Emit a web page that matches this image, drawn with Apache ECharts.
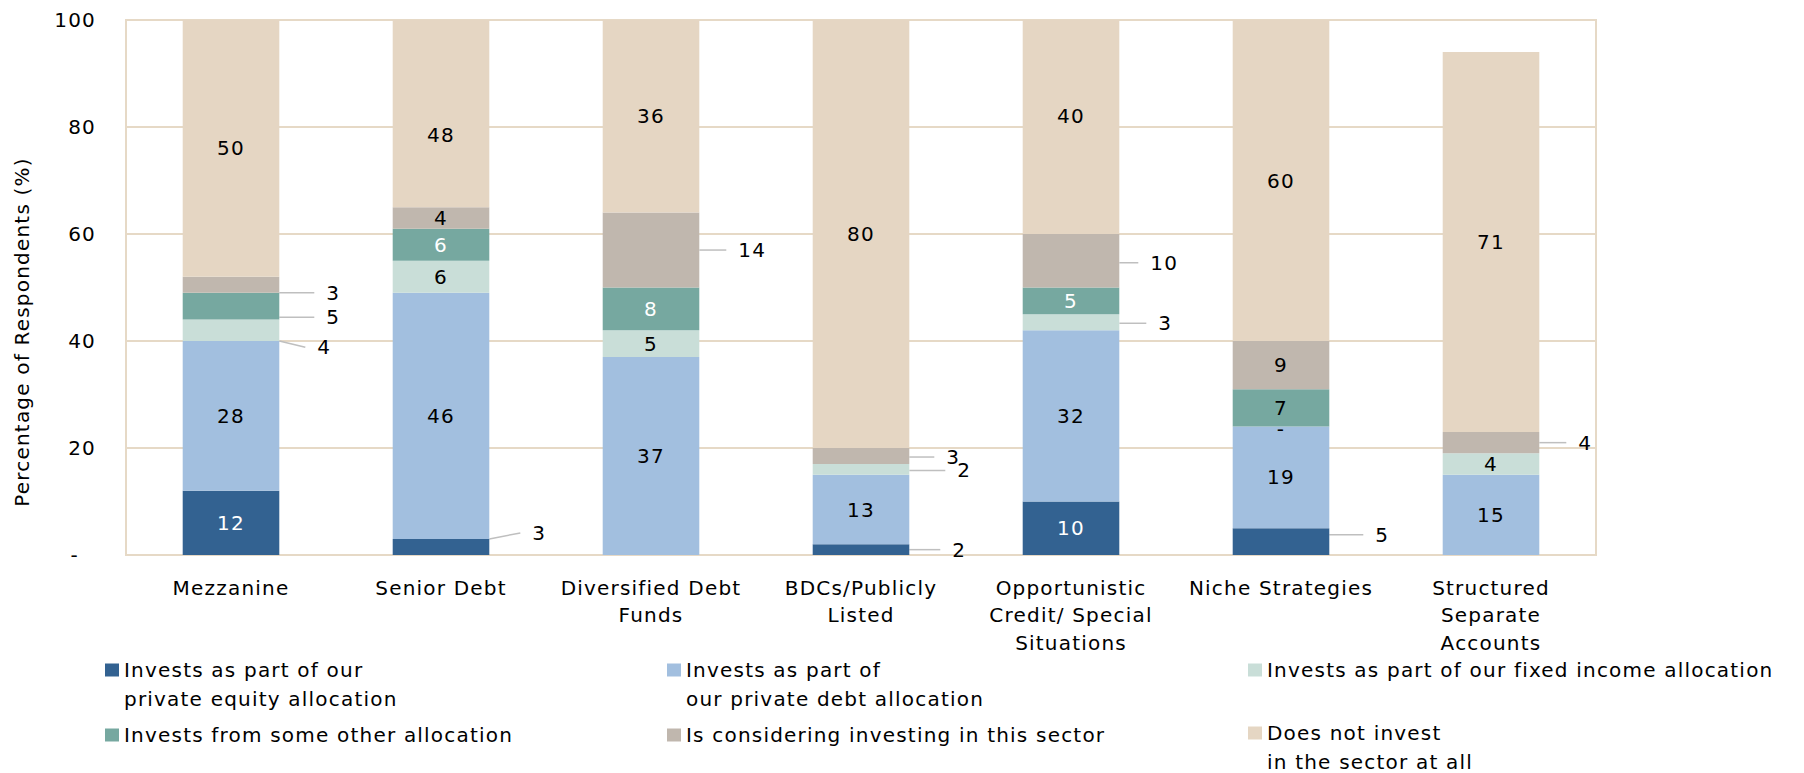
<!DOCTYPE html>
<html>
<head>
<meta charset="utf-8">
<script src="https://cdn.jsdelivr.net/npm/echarts@6/dist/echarts.min.js"></script>
<style>
  html, body { margin: 0; padding: 0; background: #fff; }
  #chart { width: 1804px; height: 773px; }
  /* the source chart's text is loosely spaced */
  #chart svg text { letter-spacing: 1.2px; }
</style>
</head>
<body>
<div id="chart"></div>
<script>
const categories = [
  'Mezzanine',
  'Senior Debt',
  'Diversified Debt\nFunds',
  'BDCs/Publicly\nListed',
  'Opportunistic\nCredit/ Special\nSituations',
  'Niche Strategies',
  'Structured\nSeparate\nAccounts'
];
const seriesNames = [
  'Invests as part of our\nprivate equity allocation',
  'Invests as part of\nour private debt allocation',
  'Invests as part of our fixed income allocation',
  'Invests from some other allocation',
  'Is considering investing in this sector',
  'Does not invest\nin the sector at all'
];
const privateEquity = [12, 3, null, 2, 10, 5, null];
const privateDebt = [28, 46, 37, 13, 32, 19, 15];
const fixedIncome = [4, 6, 5, 2, 3, 0, 4];
const otherAllocation = [5, 6, 8, null, 5, 7, null];
const considering = [3, 4, 14, 3, 10, 9, 4];
const notInvesting = [50, 48, 36, 80, 40, 60, 71];
const yTicks = [0, 20, 40, 60, 80, 100];

const FONT = 'DejaVu Sans';
const GRID_COLOR = '#E6D9C6';
const colors = ['#336291', '#A2BFDF', '#C9DED8', '#76A8A0', '#C0B7AE', '#E5D6C3'];
const labelColors = ['#fff', '#000', '#000', '#fff', '#000', '#000'];
const seriesValues = [privateEquity, privateDebt, fixedIncome, otherAllocation, considering, notInvesting];

// small segments get their label outside, with a leader line: category -> [dx, dy]
const outsideLabels = [
  { 1: [3, -14], 3: [3, 0], 5: [6, -7] },
  {},
  { 0: [-2, 17], 3: [8, 1], 4: [-1, 1] },
  { 0: [7, 11] },
  { 0: [7, 8], 2: [-1, 0], 3: [-3, 1], 4: [-9, 2], 6: [-1, 0] },
  {}
];
const insideShifts = [{}, {}, { 5: [0, 2] }, {}, {}, { 1: [0, 21], 4: [0, -11] }];
const labelColorFix = [{}, {}, {}, { 5: '#000' }, {}, {}];

const chart = echarts.init(document.getElementById('chart'), null, { renderer: 'svg' });

const series = seriesNames.map((name, s) => ({
  name: name,
  type: 'bar',
  stack: 'total',
  barWidth: '46%',
  animation: false,
  itemStyle: { color: colors[s] },
  label: {
    show: true,
    position: 'inside',
    color: labelColors[s],
    fontFamily: FONT,
    fontSize: 20,
    formatter: p => (p.value === 0 ? '-' : p.value)
  },
  labelLine: { lineStyle: { color: '#BFBFBF', width: 1.5 } },
  labelLayout: p => {
    const d = outsideLabels[s][p.dataIndex] || insideShifts[s][p.dataIndex];
    return d ? { dx: d[0], dy: d[1] } : {};
  },
  emphasis: { disabled: true },
  data: seriesValues[s].map((v, i) => {
    if (outsideLabels[s][i]) {
      return {
        value: v,
        label: {
          position: 'right', distance: 28, color: '#000',
          padding: [0, 0, 0, 12], backgroundColor: 'rgba(255,255,255,0)'
        },
        labelLine: { show: true }
      };
    }
    return labelColorFix[s][i] ? { value: v, label: { color: labelColorFix[s][i] } } : v;
  })
}));

// legend: 3 columns x 2 rows, one legend per item
const legendSlots = [
  [105, 670], [667, 670], [1248, 670],
  [105, 735], [667, 735], [1248, 733]
];
const legends = seriesNames.map((name, k) => {
  const twoLine = name.indexOf('\n') >= 0;
  const [x, cy] = legendSlots[k];
  return {
    left: x,
    top: twoLine ? cy - 43.5 : cy - 14.5,
    padding: 0,
    icon: 'rect',
    itemWidth: 14,
    itemHeight: 13,
    selectedMode: false,
    textStyle: { fontFamily: FONT, fontSize: 20, color: '#000', lineHeight: 29 },
    // blank first line keeps the swatch beside the first line of text
    formatter: n => (twoLine ? '\n' + n : n),
    data: [name]
  };
});

chart.setOption({
  animation: false,
  textStyle: { fontFamily: FONT },
  grid: {
    left: 126, right: 208, top: 20, bottom: 218,
    show: true, borderColor: GRID_COLOR, borderWidth: 2
  },
  legend: legends,
  xAxis: {
    type: 'category',
    data: categories,
    axisTick: { show: false },
    axisLine: { show: true, lineStyle: { color: GRID_COLOR, width: 2 } },
    axisLabel: {
      interval: 0,
      margin: 19,
      color: '#000',
      fontFamily: FONT,
      fontSize: 20,
      lineHeight: 27.5
    }
  },
  yAxis: {
    type: 'value',
    min: yTicks[0],
    max: yTicks[yTicks.length - 1],
    interval: yTicks[1] - yTicks[0],
    name: 'Percentage of Respondents (%)',
    nameLocation: 'middle',
    nameRotate: 90,
    nameGap: 94,
    nameTextStyle: { fontFamily: FONT, fontSize: 20, color: '#000', padding: [0, 89, 0, 0] },
    axisLine: { show: false },
    axisTick: { show: false },
    splitLine: { lineStyle: { color: GRID_COLOR, width: 2 } },
    axisLabel: {
      margin: 30,
      color: '#000',
      fontFamily: FONT,
      fontSize: 20,
      formatter: v => (v === 0 ? '{d|-}' : String(v)),
      rich: { d: { fontFamily: FONT, fontSize: 20, color: '#000', padding: [0, 17, 0, 0] } }
    }
  },
  series: series
});
</script>
</body>
</html>
